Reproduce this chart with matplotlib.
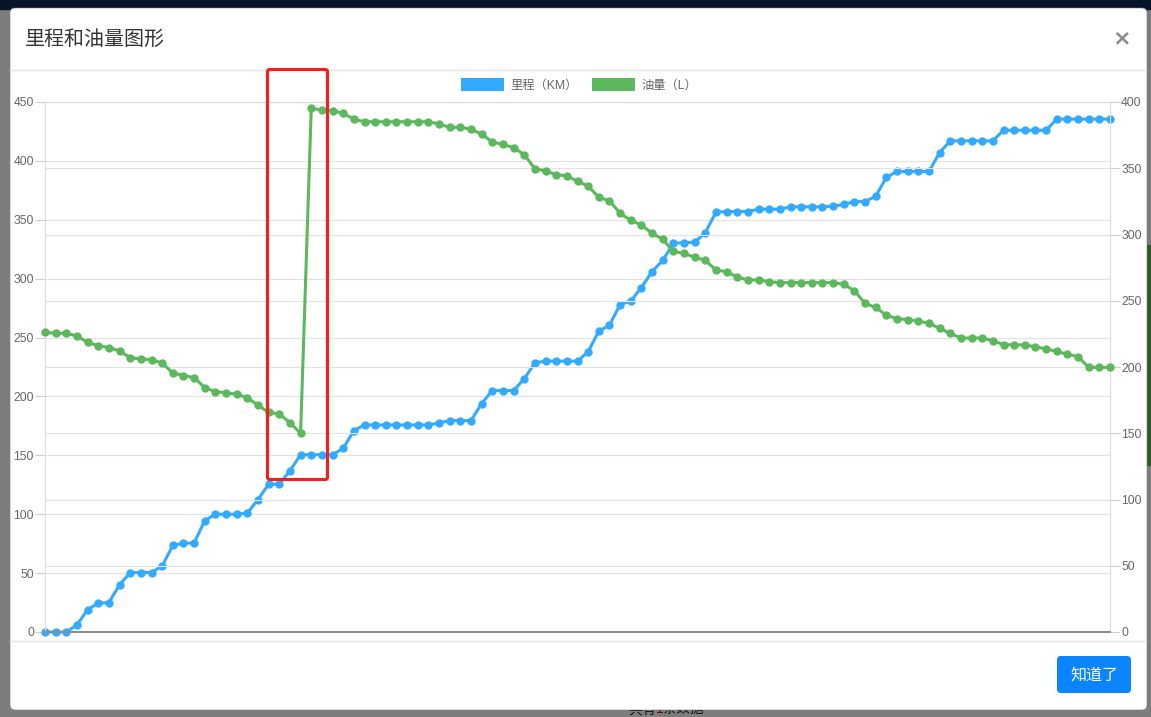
import numpy as np
import matplotlib
matplotlib.use("Agg")
import matplotlib.pyplot as plt
from matplotlib.patches import FancyBboxPatch, Rectangle, Patch

plt.rcParams['font.family'] = ['Liberation Sans', 'Noto Sans CJK SC', 'DejaVu Sans']

# ---------------- data ----------------
title = "里程和油量图形"
series_names = ["里程（KM）", "油量（L）"]
left_ticks = [0, 50, 100, 150, 200, 250, 300, 350, 400, 450]
right_ticks = [0, 50, 100, 150, 200, 250, 300, 350, 400]

mileage = [
    0, 0, 0, 6, 19, 24.5, 25, 40, 50.5, 50.5,
    50.5, 56, 73.5, 75.5, 75.5, 94.5, 100, 100, 100, 101,
    112.5, 125.5, 125.5, 137, 150.5, 150.5, 150.5, 150.5, 156, 171,
    175.8, 175.8, 175.8, 175.8, 175.8, 175.8, 175.8, 177.5, 179.5, 179.5,
    179.5, 194, 205, 205, 205, 215, 228.5, 230, 230, 230,
    230, 238, 255.5, 260.5, 278, 281, 292.5, 306, 315.5, 330,
    330.5, 331, 339, 356.5, 357, 357, 357, 359, 359, 359,
    361, 361, 361, 361, 361.5, 363, 365.5, 365.5, 370, 386,
    391, 391, 391, 391, 407, 417, 417, 417, 417, 417,
    426, 426, 426, 426, 426, 435.5, 435.5, 435.5, 435.5, 435.5,
    435.5,
]
fuel = [
    226.2, 225.4, 225.4, 223.4, 218.6, 216.1, 214.6, 212.1, 207, 206,
    205.5, 203, 195.5, 193.5, 192, 184.4, 181.4, 180.6, 179.4, 176.9,
    171.1, 165.8, 164.5, 158, 150, 395.2, 394, 393.5, 391.5, 387,
    385.1, 385.1, 385.1, 385.1, 385.1, 385.1, 385.1, 383.4, 380.9, 380.9,
    379.4, 375.8, 369.8, 368, 365.5, 360.3, 349.7, 348, 345.1, 344.3,
    340.1, 336.6, 328, 325.5, 316, 310.7, 307.2, 300.9, 296.4, 287.3,
    285.8, 282.8, 280.5, 273.2, 271.9, 267.9, 265.7, 265.7, 264.4, 263.7,
    263.7, 263.7, 263.7, 263.7, 263.7, 262.4, 257.6, 248, 245, 239,
    236.5, 235.7, 234.7, 233, 229.2, 225.4, 221.8, 221.9, 221.9, 219.9,
    216.8, 216.8, 216.6, 215.3, 213.6, 211.8, 209.6, 207.8, 199.8, 199.7,
    199.7,
]
x = np.arange(len(mileage))

# ---------------- figure ----------------
W, H = 1151, 717
fig = plt.figure(figsize=(W / 100, H / 100), dpi=100)

# background / modal drawn in pixel coordinates
bg = fig.add_axes([0, 0, 1, 1], zorder=0)
bg.set_xlim(0, W)
bg.set_ylim(H, 0)
bg.axis('off')
bg.add_patch(Rectangle((0, 0), W, H, color='#7d7d7d', zorder=0.1))
bg.add_patch(Rectangle((0, 0), W, 9, color='#071327', zorder=0.2))
bg.add_patch(Rectangle((1140, 245), 20, 220, color='#2d5a27', zorder=0.2))
bg.text(656, 709, "共有", ha='right', va='center', fontsize=10, color='#111', zorder=0.5)
bg.text(656, 709, "1", ha='left', va='center', fontsize=10, color='#7a0000', zorder=0.5)
bg.text(663, 709, "条数据", ha='left', va='center', fontsize=10, color='#111', zorder=0.5)
modal = FancyBboxPatch((10, 8), 1137, 702, boxstyle="round,pad=0,rounding_size=5",
                       facecolor='white', edgecolor='#777', linewidth=0.4, zorder=1)
bg.add_patch(modal)
bg.plot([10.5, 1146.5], [69.5, 69.5], color='#e5e5e5', lw=1, zorder=2)
bg.plot([10.5, 1146.5], [640.5, 640.5], color='#e5e5e5', lw=1, zorder=2)
bg.text(25, 39, title, ha='left', va='center', fontsize=14.4, color='#333333', zorder=3)
bg.text(1122, 38, "×", ha='center', va='center', fontsize=16, color='#8a8a8a',
        fontweight='bold', family=['DejaVu Sans'], zorder=3)
btn = FancyBboxPatch((1057, 656), 74, 37, boxstyle="round,pad=0,rounding_size=4",
                     facecolor='#0a84ff', edgecolor='none', zorder=2)
bg.add_patch(btn)
bg.text(1094, 675, "知道了", ha='center', va='center', fontsize=11.5, color='white', zorder=3)

# chart axes
L, R, T, B = 45, 1110, 102, 632
ax = fig.add_axes([L / W, 1 - B / H, (R - L) / W, (B - T) / H], zorder=1)
ax.patch.set_visible(False)
ax2 = ax.twinx()
ax2.patch.set_visible(False)

blue = '#33aaff'
green = '#5cb85c'

ax.plot(x, mileage, color=blue, lw=2.2, marker='o', markersize=5, clip_on=False, zorder=3)
ax2.plot(x, fuel, color=green, lw=2.2, marker='o', markersize=5, clip_on=False, zorder=3)

ax.set_xlim(0, len(mileage) - 1)
ax.set_ylim(0, 450)
ax2.set_ylim(0, 400)
ax.set_xticks([])
ax.set_yticks(left_ticks)
ax2.set_yticks(right_ticks)

for a in (ax, ax2):
    a.tick_params(axis='y', length=7, width=0.8, color='#cccccc', labelsize=8.8,
                  labelcolor='#666666', pad=1)
    for s in ('top', 'left', 'right'):
        a.spines[s].set_color('#dddddd')
        a.spines[s].set_linewidth(0.8)
    a.spines['bottom'].set_color('#8c8c8c')
    a.spines['bottom'].set_linewidth(1.3)
    a.grid(axis='y', color='#e2e2e2', linewidth=0.8)
    a.set_axisbelow(True)

# legend
handles = [Patch(facecolor=blue, edgecolor='none'), Patch(facecolor=green, edgecolor='none')]
fig.legend(handles, series_names, loc='center', bbox_to_anchor=(579 / W, 1 - 85 / H),
           ncol=2, frameon=False, fontsize=8.8, labelcolor='#666666',
           handlelength=3.5, handleheight=1.15, handletextpad=0.5, columnspacing=1.2)

# red annotation rectangle
overlay = fig.add_axes([0, 0, 1, 1], zorder=5)
overlay.set_xlim(0, W)
overlay.set_ylim(H, 0)
overlay.axis('off')
overlay.patch.set_visible(False)
overlay.add_patch(FancyBboxPatch((267.5, 69.5), 60, 410, boxstyle="round,pad=0,rounding_size=2",
                                 facecolor='none', edgecolor='#ff1a1a', linewidth=2.2))

fig.savefig("out.png", dpi=100)
